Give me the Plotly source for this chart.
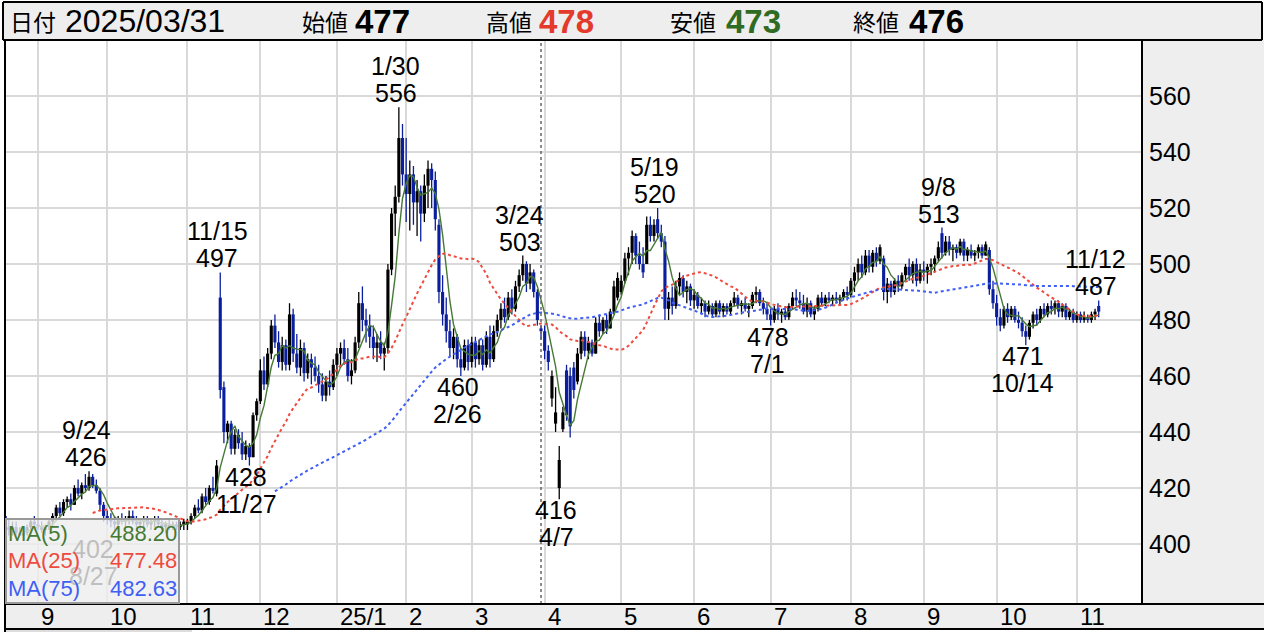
import pandas as pd
import plotly.graph_objects as go

# ---------------- data ----------------
start_date = "2024-08-20"
end_date = "2025-11-12"
jp_holidays = ["2024-09-16", "2024-09-23", "2024-10-14", "2024-11-04", "2024-12-31",
               "2025-01-01", "2025-01-02", "2025-01-03", "2025-01-13", "2025-02-11",
               "2025-02-24", "2025-03-20", "2025-04-29", "2025-05-05", "2025-05-06",
               "2025-07-21", "2025-08-11", "2025-09-15", "2025-09-23", "2025-10-13",
               "2025-11-03"]

open_ = [
    410, 406, 405, 406, 404, 403, 404, 406, 408,
    407, 406, 405, 406, 408, 410, 413, 411, 415, 416, 414, 420, 418, 421, 420, 424, 421, 419, 414,
    410, 409, 408, 407, 409, 408, 409, 410, 408, 407, 408, 409, 407, 408, 409, 407, 406, 407, 406, 407, 406, 407,
    407, 408, 410, 413, 412, 417, 415, 420, 418, 488, 456, 440, 443, 434, 439, 436, 432, 435, 431, 446,
    451, 462, 457, 468, 478, 472, 465, 471, 464, 482, 468, 463, 470, 461, 466, 463, 460, 457, 453, 458, 456,
    464, 468, 470, 466, 460, 462, 472, 486, 480, 478, 474, 470, 472, 468, 470, 498, 518, 524, 545,
    532, 525, 532, 522, 526, 518, 528, 534, 530, 514, 490, 482, 476, 470, 474, 466, 463, 471,
    465, 472, 466, 471, 464, 474, 466, 476, 480, 484, 481, 488, 484, 492, 496, 500, 493, 497, 490, 477,
    476, 469, 452, 443, 420, 441, 462, 460, 463, 458, 468, 474, 469, 472, 468, 479, 476, 480, 477, 483, 488,
    490, 494, 502, 504, 510, 503, 500, 500, 514, 510, 516, 511, 508, 484, 488, 485, 492, 495, 490, 492,
    487, 489, 485, 486, 483, 485, 482, 486, 483, 485, 483, 486, 488, 485, 486, 484, 485, 489, 490, 486, 484,
    482, 480, 484, 482, 483, 481, 485, 488, 487, 486, 483, 486, 482, 484, 488, 486, 488, 487, 488, 487, 488, 490,
    489, 494, 497, 500, 497, 503, 499, 504, 501, 502, 490, 493, 490, 494, 492, 496, 499, 496, 500, 494,
    498, 497, 499, 500, 502, 511, 504, 508, 505, 506, 504, 508, 503, 505, 503, 504, 506, 503, 505, 491,
    486, 481, 478, 484, 481, 484, 480, 479, 476, 474, 479, 482, 480, 484, 482, 485, 484, 486, 483, 485, 481, 483,
    480, 482, 480, 481, 480, 482, 485,
]
high = [
    413, 409, 408, 408, 406, 405, 407, 409, 410,
    409, 408, 407, 409, 411, 414, 415, 416, 417, 418, 421, 423, 422, 425, 426, 425, 423, 420, 415,
    412, 411, 410, 410, 411, 410, 412, 412, 410, 409, 410, 410, 409, 410, 410, 409, 408, 409, 408, 408, 408, 409,
    409, 411, 414, 416, 418, 420, 421, 424, 430, 497, 458, 444, 444, 441, 441, 440, 437, 436, 447, 452,
    466, 467, 470, 480, 482, 476, 474, 473, 486, 484, 475, 473, 472, 468, 468, 467, 464, 461, 460, 462, 466,
    470, 472, 473, 470, 466, 474, 490, 492, 484, 482, 478, 475, 476, 472, 500, 520, 528, 556, 550,
    545, 537, 535, 530, 528, 532, 537, 536, 533, 516, 496, 488, 480, 477, 475, 470, 473, 473,
    474, 474, 473, 473, 476, 478, 478, 482, 486, 488, 490, 491, 494, 498, 503, 501, 500, 498, 491, 478,
    478, 471, 462, 456, 435, 449, 464, 463, 465, 470, 476, 476, 474, 473, 481, 482, 481, 482, 484, 494, 497,
    496, 504, 506, 512, 511, 508, 506, 517, 517, 516, 520, 514, 510, 490, 492, 494, 497, 496, 494, 493,
    491, 490, 488, 487, 487, 486, 487, 487, 486, 486, 487, 490, 489, 487, 488, 486, 490, 492, 491, 488, 486,
    484, 485, 486, 484, 485, 486, 490, 491, 490, 489, 488, 487, 485, 489, 490, 489, 490, 489, 490, 489, 491, 492,
    495, 499, 502, 503, 505, 505, 505, 506, 507, 503, 495, 494, 495, 496, 497, 500, 502, 501, 502, 500,
    501, 500, 502, 503, 508, 513, 510, 510, 507, 507, 509, 509, 506, 507, 505, 507, 507, 508, 506, 494,
    489, 484, 485, 486, 485, 485, 483, 481, 478, 480, 483, 484, 485, 486, 486, 487, 487, 487, 486, 486, 484, 484,
    483, 483, 483, 482, 483, 484, 487,
]
low = [
    404, 403, 403, 403, 403, 402, 403, 405, 406,
    405, 404, 403, 405, 406, 409, 410, 410, 413, 412, 414, 417, 416, 419, 419, 420, 418, 412, 408,
    407, 406, 405, 406, 407, 406, 407, 407, 406, 405, 406, 406, 405, 406, 406, 405, 404, 405, 405, 405, 405, 405,
    405, 407, 409, 411, 411, 414, 414, 418, 417, 452, 436, 436, 432, 432, 434, 430, 430, 428, 431, 444,
    450, 455, 456, 466, 470, 463, 462, 462, 462, 465, 461, 460, 458, 459, 457, 458, 454, 451, 451, 453, 455,
    460, 463, 464, 458, 457, 461, 470, 476, 472, 470, 466, 465, 466, 462, 468, 496, 510, 522, 528,
    515, 512, 514, 510, 508, 515, 520, 520, 512, 486, 478, 472, 467, 466, 463, 460, 462, 462,
    463, 463, 464, 462, 463, 463, 465, 474, 477, 479, 480, 482, 483, 490, 494, 490, 491, 488, 478, 473,
    466, 462, 449, 440, 416, 440, 444, 438, 452, 457, 466, 467, 466, 467, 468, 474, 475, 475, 477, 482, 487,
    489, 493, 496, 500, 500, 498, 495, 500, 508, 508, 509, 506, 480, 480, 482, 484, 489, 488, 486, 485,
    484, 484, 482, 481, 482, 481, 481, 482, 481, 482, 482, 485, 484, 482, 483, 481, 484, 486, 485, 482, 480,
    478, 479, 480, 479, 480, 480, 484, 485, 484, 482, 481, 481, 480, 483, 485, 485, 486, 485, 486, 485, 487, 487,
    488, 490, 494, 495, 496, 497, 497, 499, 500, 487, 486, 488, 489, 490, 491, 494, 494, 493, 492, 493,
    494, 493, 496, 497, 501, 502, 503, 503, 501, 502, 503, 501, 501, 502, 501, 502, 502, 503, 489, 484,
    478, 476, 477, 479, 480, 479, 477, 474, 471, 473, 477, 478, 479, 481, 481, 482, 482, 481, 481, 480, 480, 479,
    479, 479, 479, 479, 479, 480, 481,
]
close = [
    406, 405, 406, 404, 403, 404, 406, 408, 407,
    406, 405, 406, 408, 410, 413, 411, 415, 416, 414, 420, 418, 421, 420, 424, 421, 419, 414, 410,
    409, 408, 407, 409, 408, 409, 410, 408, 407, 408, 409, 407, 408, 409, 407, 406, 407, 406, 407, 406, 407, 408,
    408, 410, 413, 412, 417, 415, 420, 419, 428, 455, 440, 443, 434, 439, 436, 432, 435, 431, 446, 451,
    462, 457, 468, 478, 472, 465, 471, 464, 482, 468, 463, 470, 461, 466, 463, 460, 457, 453, 458, 456, 464,
    468, 470, 466, 460, 462, 472, 486, 480, 478, 474, 470, 472, 468, 470, 498, 518, 524, 545, 532,
    525, 532, 522, 526, 518, 528, 534, 530, 516, 490, 482, 476, 470, 474, 466, 463, 471, 465,
    472, 466, 471, 464, 474, 466, 476, 480, 484, 481, 488, 484, 492, 496, 500, 493, 497, 490, 480, 476,
    469, 465, 460, 447, 430, 447, 446, 442, 455, 468, 474, 469, 472, 468, 479, 476, 480, 477, 483, 492, 495,
    494, 502, 504, 510, 503, 500, 497, 514, 510, 514, 511, 508, 484, 488, 485, 492, 495, 490, 492, 487,
    489, 485, 486, 483, 485, 482, 486, 483, 485, 483, 486, 488, 485, 486, 484, 485, 489, 490, 486, 484, 482,
    480, 484, 482, 483, 481, 485, 488, 487, 486, 483, 486, 482, 484, 488, 486, 488, 487, 488, 487, 488, 490, 489,
    494, 497, 500, 497, 503, 499, 504, 501, 506, 490, 493, 490, 494, 492, 496, 499, 496, 500, 494, 498,
    497, 499, 500, 502, 506, 504, 508, 505, 506, 504, 508, 503, 505, 503, 504, 506, 503, 507, 491, 486,
    481, 478, 484, 481, 484, 480, 479, 476, 474, 479, 482, 480, 484, 482, 485, 484, 486, 483, 485, 481, 483, 480,
    482, 480, 481, 480, 482, 483, 483,
]

# high / low marker labels: (date, price, kind)
marker_dates = ["2024-08-27", "2024-09-24", "2024-11-15", "2024-11-27", "2025-01-30", "2025-02-26",
                "2025-03-24", "2025-04-07", "2025-05-19", "2025-07-01", "2025-09-08", "2025-10-14",
                "2025-11-12"]
marker_prices = [402, 426, 497, 428, 556, 460, 503, 416, 520, 478, 513, 471, 487]
marker_kinds = ["low", "high", "high", "low", "high", "low", "high", "low", "high", "low", "high", "low", "high"]

month_labels = ["9", "10", "11", "12", "25/1", "2", "3", "4", "5", "6", "7", "8", "9", "10", "11"]
y_ticks = [400, 420, 440, 460, 480, 500, 520, 540, 560]

header_date = "2025/03/31"
cursor_date = "2025-03-31"
header_open, header_high, header_low, header_close = "477", "478", "473", "476"
ma_names = ["MA(5)", "MA(25)", "MA(75)"]
ma_windows = [5, 25, 75]
ma_values_text = ["488.20", "477.48", "482.63"]

# ---------------- build ----------------
dates = pd.bdate_range(start_date, end_date)
dates = dates[~dates.isin(pd.to_datetime(jp_holidays))]
n = len(dates)
assert n == len(open_) == len(high) == len(low) == len(close), (n, len(open_), len(high), len(low), len(close))
idx = list(range(n))
df = pd.DataFrame({"o": open_, "h": high, "l": low, "c": close}, index=dates)
df["i"] = idx

month_start_idx = []
prev = None
for i, d in enumerate(dates):
    key = (d.year, d.month)
    if prev is not None and key != prev:
        month_start_idx.append(i)
    prev = key

FONT = "Noto Sans CJK JP, Noto Sans, sans-serif"
NUMFONT = "Liberation Sans, Arial, sans-serif"
GREEN, RED, BLUE = "#457a34", "#ee4a3e", "#3f5ff5"
UP, DOWN = "#000000", "#0b1f9e"

PL, PR, PT, PB = 6, 1142, 40, 604
W, H = PR - PL, PB - PT


def px(x):
    return (x - PL) / W


def py(y):
    return (PB - y) / H


fig = go.Figure()

# candles: wicks (lines) + bodies (bars)
for is_up, col in [(True, UP), (False, DOWN)]:
    sub = df[(df["c"] >= df["o"]) == is_up]
    wx, wy = [], []
    for i, lo, hi in zip(sub["i"], sub["l"], sub["h"]):
        wx += [i, i, None]
        wy += [lo, hi, None]
    fig.add_trace(go.Scatter(x=wx, y=wy, mode="lines", line=dict(color=col, width=1.3),
                             showlegend=False, hoverinfo="skip"))
    body_base = sub[["o", "c"]].min(axis=1)
    body_len = (sub["c"] - sub["o"]).abs().clip(lower=0.6)
    fig.add_trace(go.Bar(x=sub["i"], y=body_len, base=body_base, width=0.86,
                         marker=dict(color=col, line=dict(width=0)),
                         showlegend=False, hoverinfo="skip"))

ma_styles = [dict(color=GREEN, width=1.4, dash="solid"),
             dict(color=RED, width=2, dash="dot"),
             dict(color=BLUE, width=2, dash="dot")]
for w, st in zip(ma_windows, ma_styles):
    ma = df["c"].rolling(w).mean()
    fig.add_trace(go.Scatter(x=idx, y=ma.values, mode="lines", line=st,
                             showlegend=False, hoverinfo="skip"))

ann = []
# high/low labels
pos = {d: i for i, d in enumerate(dates.strftime("%Y-%m-%d"))}
for d, p, k in zip(marker_dates, marker_prices, marker_kinds):
    i = pos[d]
    dt = pd.Timestamp(d)
    dtxt = f"{dt.month}/{dt.day}"
    xs = 70 if d == "2024-08-27" else -3
    if k == "high":
        lines = [(dtxt, 41), (str(p), 14)]
    else:
        lines = [(str(p), -11), (dtxt, -38)]
    for t, ys in lines:
        ann.append(dict(x=i, y=p, xref="x", yref="y", text=t, showarrow=False,
                        xanchor="center", yanchor="middle", xshift=xs, yshift=ys,
                        borderpad=0,
                        font=dict(family=NUMFONT, size=25, color="#000000")))

# legend box (semi transparent, drawn over the chart)
ann.append(dict(x=px(5), y=py(604), xref="paper", yref="paper", text=" ", showarrow=False,
                xanchor="left", yanchor="bottom", width=171, height=82,
                bgcolor="rgba(238,238,238,0.8)", bordercolor="#999999", borderwidth=2, borderpad=0))
for k, (nm, val, col) in enumerate(zip(ma_names, ma_values_text, [GREEN, RED, BLUE])):
    yc = 533 + 27.5 * k
    ann.append(dict(x=px(7), y=py(yc), xref="paper", yref="paper", text=nm, showarrow=False,
                    xanchor="left", yanchor="middle", borderpad=0,
                    font=dict(family=NUMFONT, size=22, color=col)))
    ann.append(dict(x=px(178), y=py(yc), xref="paper", yref="paper", text=val, showarrow=False,
                    xanchor="right", yanchor="middle", borderpad=0,
                    font=dict(family=NUMFONT, size=22, color=col)))

# month labels
for i, t in zip(month_start_idx, month_labels):
    ann.append(dict(x=i, y=py(616.5), xref="x", yref="paper", text=t, showarrow=False,
                    xanchor="left", yanchor="middle", xshift=2, borderpad=0,
                    font=dict(family=NUMFONT, size=24, color="#000000")))

# header
hdr = [("日付", 9, 23, "#000000", False, FONT), (header_date, 64, 32, "#000000", False, NUMFONT),
       ("始値", 301, 23, "#000000", False, FONT), (header_open, 354, 33, "#000000", True, NUMFONT),
       ("高値", 485, 23, "#000000", False, FONT), (header_high, 538, 33, "#e33a2c", True, NUMFONT),
       ("安値", 669, 23, "#000000", False, FONT), (header_low, 725, 33, "#2f6b22", True, NUMFONT),
       ("終値", 852, 23, "#000000", False, FONT), (header_close, 908, 33, "#000000", True, NUMFONT)]
for t, x0, sz, col, bold, fam in hdr:
    ann.append(dict(x=px(x0), y=py(21), xref="paper", yref="paper",
                    text=f"<b>{t}</b>" if bold else t, showarrow=False,
                    xanchor="left", yanchor="middle", borderpad=0,
                    font=dict(family=fam, size=sz, color=col)))

shapes = []


def rect(x0, y0, x1, y1, fill, layer="below"):
    shapes.append(dict(type="rect", xref="paper", yref="paper", x0=px(x0), x1=px(x1),
                       y0=py(y1), y1=py(y0), fillcolor=fill, layer=layer,
                       line=dict(color=fill, width=0)))


def line(x0, y0, x1, y1, col="#000000", w=2):
    shapes.append(dict(type="line", xref="paper", yref="paper", x0=px(x0), x1=px(x1),
                       y0=py(y0), y1=py(y1), layer="above", line=dict(color=col, width=w)))


rect(3, 2, 1262, 40, "#eeeeee")
rect(1142, 40, 1264, 604, "#eeeeee")
rect(5, 604, 1264, 629, "#eeeeee")
rect(5, 629, 192, 632, "#dddddd")

# cursor line
shapes.append(dict(type="line", xref="x", yref="paper", x0=pos[cursor_date], x1=pos[cursor_date],
                   y0=0, y1=1, layer="above", line=dict(color="#666666", width=1.5, dash="dot")))

line(3, 2, 1262, 2)
line(3, 2, 3, 40)
line(1262, 2, 1262, 40)
line(3, 40, 1262, 40)
line(5, 40, 5, 632)
line(1142, 40, 1142, 604)
line(5, 604, 1264, 604)
line(5, 629, 1264, 629)

x_left = 9 + (PL - 38) / 3.645
x_right = 9 + (PR - 38) / 3.645
y_lo = 560 - (PB - 96) / 2.8
y_hi = 560 + (96 - PT) / 2.8

fig.update_layout(
    width=1264, height=632,
    margin=dict(l=PL, r=1264 - PR, t=PT, b=632 - PB, pad=0),
    paper_bgcolor="#ffffff", plot_bgcolor="#ffffff",
    showlegend=False, barmode="overlay",
    annotations=ann, shapes=shapes,
    xaxis=dict(range=[x_left, x_right], tickvals=month_start_idx, showticklabels=False,
               ticks="", showgrid=True, gridcolor="#d9d9d9", gridwidth=2, zeroline=False,
               showline=False, fixedrange=True),
    yaxis=dict(range=[y_lo, y_hi], side="right", tickvals=y_ticks, ticks="",
               ticklabelstandoff=6, showgrid=True, gridcolor="#d9d9d9", gridwidth=2,
               zeroline=False, showline=False, fixedrange=True,
               tickfont=dict(family=NUMFONT, size=25, color="#000000")),
)

fig.write_html("out.html", config={"displayModeBar": False},
               post_script="document.body.style.margin='0';document.body.style.overflow='hidden';")
